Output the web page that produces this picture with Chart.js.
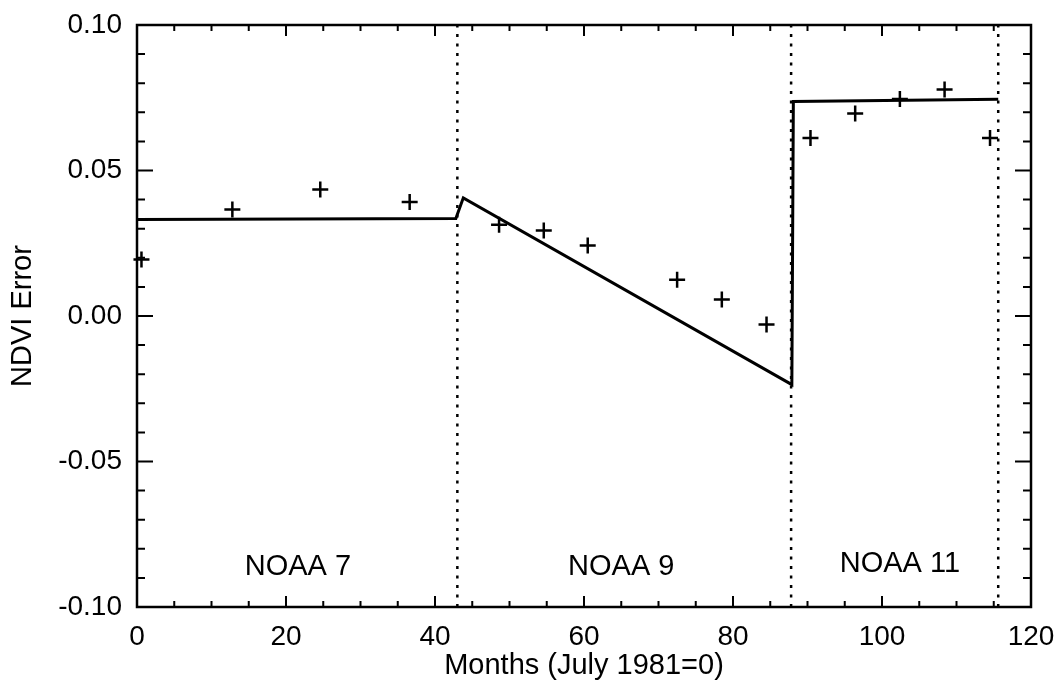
<!DOCTYPE html>
<html>
<head>
<meta charset="utf-8">
<title>NDVI Error</title>
<script src="https://cdn.jsdelivr.net/npm/chart.js@4.4.0/dist/chart.umd.min.js"></script>
<style>
  body { margin: 0; background: #fff; }
  #wrap { width: 1062px; height: 683px; position: relative; }
</style>
</head>
<body>
<div id="wrap"><canvas id="chart_ndvi"></canvas></div>
<script>
// observed NDVI error, months since July 1981
var obsMonths = [0.6, 12.8, 24.6, 36.6, 48.6, 54.6, 60.5, 72.5, 78.5, 84.5, 90.4, 96.4, 102.4, 108.4, 114.5];
var obsError  = [0.0194, 0.0366, 0.0435, 0.0392, 0.0314, 0.0294, 0.0242, 0.0125, 0.0057, -0.0029, 0.0612, 0.0696, 0.0746, 0.0778, 0.0612];

// fitted error model, one piece per satellite
var fitMonths = [0, 42.8, 43.8, 87.9, 88.1, 115.6];
var fitError  = [0.0332, 0.0335, 0.0406, -0.0236, 0.0737, 0.0745];

// satellite changeovers
var switchMonths = [43, 87.8, 115.6];

var satNames  = ['NOAA 7', 'NOAA 9', 'NOAA 11'];
var satLabelX = [21.6, 65, 102.4];
var satLabelY = [-0.0864, -0.0864, -0.0852];

var xTicks = [0, 20, 40, 60, 80, 100, 120];
var yTicks = [-0.10, -0.05, 0.00, 0.05, 0.10];
var xMinorStep = 5;
var yMinorStep = 0.01;

var FONT = '"Liberation Sans", Arial, Helvetica, sans-serif';

var obsPoints = obsMonths.map(function (m, i) { return { x: m, y: obsError[i] }; });
var fitPoints = fitMonths.map(function (m, i) { return { x: m, y: fitError[i] }; });

var datasets = [
  {
    label: 'fit',
    data: fitPoints,
    showLine: true,
    borderColor: '#000',
    borderWidth: 3,
    pointRadius: 0,
    tension: 0
  },
  {
    label: 'observed',
    data: obsPoints,
    showLine: false,
    pointStyle: 'cross',
    pointRadius: 8,
    pointBorderWidth: 2.5,
    pointBorderColor: '#000',
    clip: false
  }
];

switchMonths.forEach(function (m) {
  datasets.push({
    label: 'switch',
    data: [{ x: m, y: yTicks[0] }, { x: m, y: yTicks[yTicks.length - 1] }],
    showLine: true,
    borderColor: '#000',
    borderWidth: 2.5,
    borderDash: [3, 6.5],
    pointRadius: 0
  });
});

// box round the plot with inward ticks on all four sides
var frameTicks = {
  id: 'frameTicks',
  afterDatasetsDraw: function (chart) {
    var ctx = chart.ctx, a = chart.chartArea;
    var sx = chart.scales.x, sy = chart.scales.y;
    ctx.save();
    ctx.strokeStyle = '#000';
    ctx.lineWidth = 2.5;
    ctx.strokeRect(a.left, a.top, a.right - a.left, a.bottom - a.top);
    ctx.lineWidth = 2;
    ctx.beginPath();
    var nx = Math.round((sx.max - sx.min) / xMinorStep);
    for (var i = 0; i <= nx; i++) {
      var m = sx.min + i * xMinorStep;
      var px = sx.getPixelForValue(m);
      var len = xTicks.indexOf(m) >= 0 ? 11 : 6;
      ctx.moveTo(px, a.bottom); ctx.lineTo(px, a.bottom - len);
      ctx.moveTo(px, a.top); ctx.lineTo(px, a.top + len);
    }
    var ny = Math.round((sy.max - sy.min) / yMinorStep);
    for (var j = 0; j <= ny; j++) {
      var py = sy.getPixelForValue(sy.min + j * yMinorStep);
      var ylen = j % 5 === 0 ? 16 : 8;
      ctx.moveTo(a.left, py); ctx.lineTo(a.left + ylen, py);
      ctx.moveTo(a.right, py); ctx.lineTo(a.right - ylen, py);
    }
    ctx.stroke();

    ctx.fillStyle = '#000';
    ctx.font = '29px ' + FONT;
    ctx.textAlign = 'center';
    ctx.textBaseline = 'middle';
    satNames.forEach(function (name, k) {
      ctx.fillText(name, sx.getPixelForValue(satLabelX[k]), sy.getPixelForValue(satLabelY[k]));
    });
    ctx.restore();
  }
};

var ctx = document.getElementById('chart_ndvi').getContext('2d');
var chart = new Chart(ctx, {
  type: 'scatter',
  data: { datasets: datasets },
  plugins: [frameTicks],
  options: {
    responsive: true,
    maintainAspectRatio: false,
    animation: false,
    layout: { padding: { top: 25, right: 31, left: 0, bottom: 0 } },
    plugins: {
      legend: { display: false },
      tooltip: { enabled: false }
    },
    scales: {
      x: {
        type: 'linear',
        min: 0,
        max: 120,
        grid: { display: false, drawTicks: false },
        border: { display: false },
        afterBuildTicks: function (s) { s.ticks = xTicks.map(function (v) { return { value: v }; }); },
        afterFit: function (s) { s.height = 76; s.paddingLeft = 0; s.paddingRight = 0; },
        ticks: {
          color: '#000',
          font: { family: FONT, size: 28 },
          padding: 13,
          maxRotation: 0,
          autoSkip: false
        },
        title: {
          display: true,
          text: 'Months (July 1981=0)',
          color: '#000',
          font: { family: FONT, size: 29 },
          padding: { top: 0, bottom: 0 }
        }
      },
      y: {
        type: 'linear',
        min: -0.10,
        max: 0.10,
        grid: { display: false, drawTicks: false },
        border: { display: false },
        afterBuildTicks: function (s) { s.ticks = yTicks.map(function (v) { return { value: v }; }); },
        afterFit: function (s) { s.width = 137; s.paddingTop = 0; s.paddingBottom = 0; },
        ticks: {
          color: '#000',
          font: { family: FONT, size: 28 },
          padding: 15,
          autoSkip: false,
          callback: function (v) { return Math.abs(v) < 1e-9 ? '0.00' : v.toFixed(2); }
        },
        title: {
          display: true,
          text: 'NDVI Error',
          color: '#000',
          font: { family: FONT, size: 29 },
          padding: { top: 6, bottom: 0 }
        }
      }
    }
  }
});
</script>
</body>
</html>
